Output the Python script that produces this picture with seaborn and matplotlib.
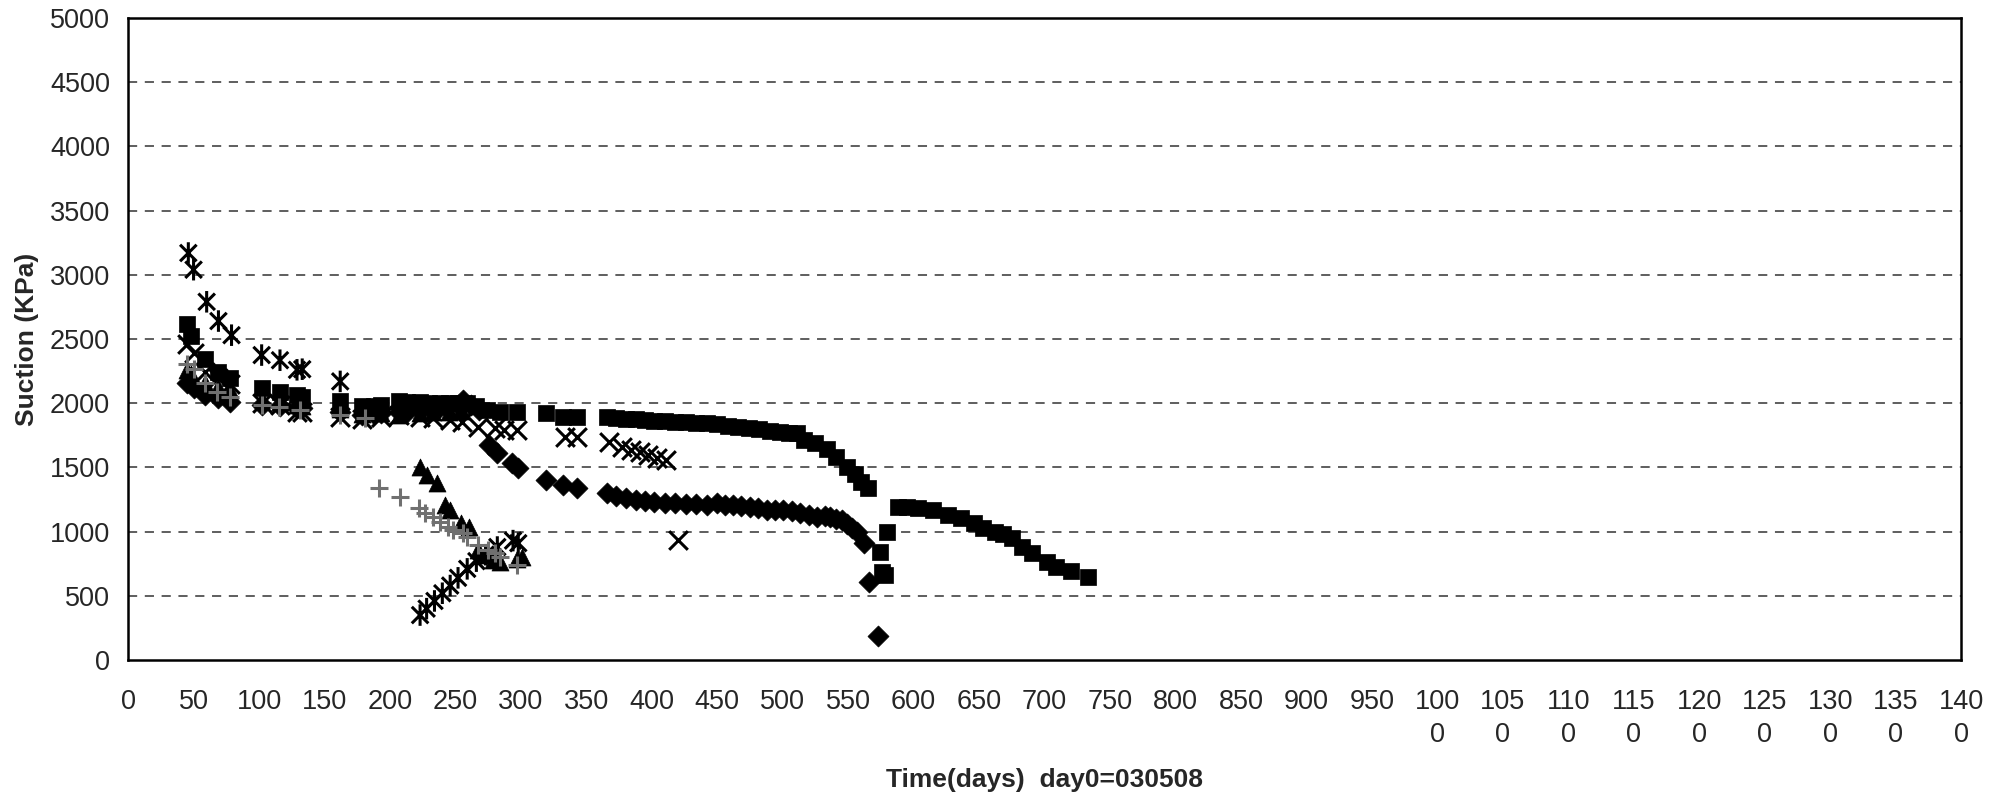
import numpy as np
import pandas as pd
import matplotlib
matplotlib.use("Agg")
import matplotlib.pyplot as plt
from matplotlib.path import Path
import seaborn as sns

# squares
sq_day = [45, 48, 59, 69, 78, 102, 116, 129, 133, 162, 179, 188, 193, 207, 213, 223, 230, 238,
          245, 252, 259, 266, 274, 284, 297, 319, 332, 343, 366, 373, 380, 388, 395, 402, 410,
          418, 426, 434, 442, 450, 458, 466, 474, 482, 490, 498, 505, 511, 516, 525, 534, 541,
          549, 555, 560, 565, 574, 576, 578, 580, 588, 595, 603, 615, 626, 636, 646, 653, 662,
          668, 675, 683, 690, 702, 709, 720, 733]
sq_suc = [2620, 2520, 2345, 2245, 2195, 2120, 2085, 2065, 2045, 2015, 1975, 1975, 1985, 2015,
          2009, 2010, 2005, 2003, 2000, 2005, 2000, 1975, 1950, 1935, 1930, 1920, 1895, 1892,
          1890, 1885, 1880, 1878, 1870, 1865, 1860, 1855, 1850, 1848, 1845, 1835, 1825, 1815,
          1810, 1800, 1785, 1775, 1770, 1765, 1715, 1690, 1640, 1585, 1505, 1445, 1390, 1340,
          840, 685, 665, 1000, 1195, 1192, 1185, 1170, 1130, 1105, 1070, 1030, 995, 985, 950,
          880, 830, 765, 725, 690, 650]

# diamonds
dm_day = [45, 50, 59, 69, 78, 102, 116, 129, 133, 162, 179, 188, 193, 207, 212, 223, 230, 238,
          245, 252, 256, 262, 268, 276, 282, 293, 298, 319, 332, 343, 366, 373, 380, 388, 395,
          402, 410, 418, 426, 434, 442, 450, 456, 462, 468, 475, 481, 488, 494, 500, 507, 513,
          520, 526, 532, 536, 541, 545, 549, 553, 557, 562, 566, 573]
dm_suc = [2160, 2120, 2065, 2040, 2010, 1985, 1975, 1965, 1960, 1935, 1905, 1915, 1925, 1930,
          1925, 1950, 1960, 1970, 1975, 1990, 2025, 1990, 1950, 1675, 1612, 1534, 1495, 1402,
          1363, 1340, 1297, 1275, 1262, 1250, 1240, 1232, 1225, 1222, 1218, 1212, 1207, 1220,
          1205, 1207, 1198, 1192, 1185, 1170, 1172, 1168, 1160, 1145, 1130, 1110, 1118, 1112,
          1100, 1090, 1060, 1030, 995, 915, 610, 190]

# triangles
tr_day = [45, 48, 59, 69, 78, 102, 116, 129, 133, 162, 179, 193, 207, 223, 233, 245, 255,
          223, 228, 236, 242, 246, 254, 260, 267, 274, 279, 284, 297, 301]
tr_suc = [2255, 2230, 2160, 2125, 2105, 2030, 2010, 1990, 1975, 1955, 1915, 1925, 1910, 1920,
          1930, 1935, 1940, 1503, 1441, 1379, 1207, 1168, 1067, 1036, 857, 820, 779, 763, 790, 802]

# x crosses
xc_day = [45, 50, 59, 69, 78, 102, 116, 129, 133, 162, 179, 193, 207, 223, 233, 246, 255, 267,
          280, 287, 297, 334, 343, 367, 377, 384, 391, 397, 404, 411, 420]
xc_suc = [2460, 2390, 2240, 2200, 2150, 2000, 1990, 1935, 1930, 1890, 1880, 1895, 1910, 1893,
          1885, 1869, 1853, 1815, 1807, 1791, 1791, 1737, 1737, 1698, 1659, 1636, 1620, 1597,
          1573, 1555, 934]

# stars
st_day = [46, 50, 60, 69, 79, 102, 116, 129, 133, 162, 223, 228, 234, 240, 246, 252, 259, 266,
          273, 282, 294, 298]
st_suc = [3170, 3040, 2790, 2640, 2530, 2375, 2335, 2260, 2265, 2170, 350, 400, 460, 520, 580,
          640, 710, 770, 820, 880, 930, 910]

# plus (grey)
pl_day = [45, 50, 59, 68, 78, 102, 115, 131, 162, 181, 192, 208, 222, 227, 233, 238, 244, 248,
          256, 259, 267, 275, 280, 284, 297]
pl_suc = [2308, 2270, 2157, 2087, 2048, 1986, 1970, 1947, 1908, 1885, 1340, 1270, 1184, 1145,
          1114, 1075, 1036, 1012, 989, 958, 896, 857, 833, 802, 740]

x_ticks = list(range(0, 1401, 50))
y_ticks = list(range(0, 5001, 500))

sns.set_style("white")
plt.rcParams['font.family'] = ['Liberation Sans', 'DejaVu Sans']

fig = plt.figure(figsize=(20.11, 7.95), dpi=100)
ax = fig.add_axes([0.0637, 0.1698, 0.9115, 0.8075])

# star marker: X with a vertical bar
star = Path([(-1, -1), (1, 1), (-1, 1), (1, -1), (0, -1.3), (0, 1.3)],
            [Path.MOVETO, Path.LINETO, Path.MOVETO, Path.LINETO, Path.MOVETO, Path.LINETO])

sns.scatterplot(x=sq_day, y=sq_suc, marker='s', s=130, color='black', edgecolor='black',
                linewidth=0.5, ax=ax, zorder=3)
sns.scatterplot(x=dm_day, y=dm_suc, marker='D', s=115, color='black', edgecolor='black',
                linewidth=0.5, ax=ax, zorder=3)
sns.scatterplot(x=tr_day, y=tr_suc, marker='^', s=150, color='black', edgecolor='black',
                linewidth=0.5, ax=ax, zorder=3)
sns.scatterplot(x=xc_day, y=xc_suc, marker='x', s=180, color='black', linewidth=2.2, ax=ax, zorder=3)
sns.scatterplot(x=st_day, y=st_suc, marker=star, s=240, facecolor='none', edgecolor='black',
                linewidth=2.2, ax=ax, zorder=3)
sns.scatterplot(x=pl_day, y=pl_suc, marker='+', s=180, color='#707070', linewidth=2.2, ax=ax, zorder=4)

ax.set_xlim(0, 1400)
ax.set_ylim(0, 5000)
ax.set_xticks(x_ticks)
ax.set_xticklabels([str(v) if v < 1000 else str(v)[:3] + "\n" + str(v)[3:] for v in x_ticks],
                   fontsize=19.5, linespacing=1.32)
ax.set_yticks(y_ticks)
ax.set_yticklabels([str(v) for v in y_ticks], fontsize=19.5)

for v in y_ticks[1:-1]:
    ax.axhline(v, color='#333333', linestyle=(0, (6, 5)), linewidth=1.1, zorder=1)

for sp in ax.spines.values():
    sp.set_visible(True)
    sp.set_color('black')
    sp.set_linewidth(1.8)

ax.tick_params(axis='both', direction='out', length=7, width=1.2, color='black', pad=6)
ax.tick_params(axis='x', pad=14)

ax.set_xlabel("Time(days)  day0=030508", fontsize=19, fontweight='bold', labelpad=15)
ax.set_ylabel("Suction (KPa)", fontsize=19, fontweight='bold', labelpad=8)

fig.savefig("out.png", dpi=100, facecolor='white')
